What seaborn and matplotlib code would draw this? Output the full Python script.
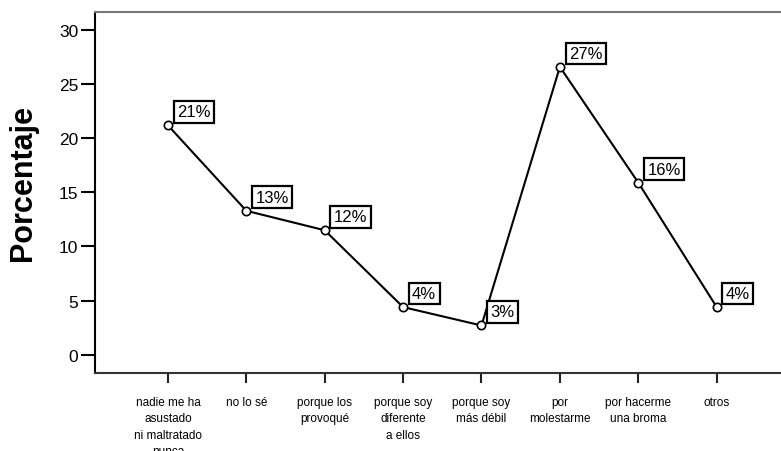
import matplotlib
matplotlib.use("Agg")
import matplotlib.pyplot as plt
import seaborn as sns
import pandas as pd

categories = ["nadie me ha\nasustado\nni maltratado\nnunca", "no lo sé",
              "porque los\nprovoqué", "porque soy\ndiferente\na ellos",
              "porque soy\nmás débil", "por\nmolestarme",
              "por hacerme\nuna broma", "otros"]
values = [21.2, 13.3, 11.5, 4.4, 2.7, 26.6, 15.9, 4.4]
point_labels = ["21%", "13%", "12%", "4%", "3%", "27%", "16%", "4%"]
yticks = [0, 5, 10, 15, 20, 25, 30]

sns.set_theme(style="white")
plt.rcParams['font.family'] = ['Liberation Sans', 'DejaVu Sans']
plt.rcParams['text.color'] = 'black'
plt.rcParams['axes.labelcolor'] = 'black'
plt.rcParams['xtick.color'] = 'black'
plt.rcParams['ytick.color'] = 'black'

df = pd.DataFrame({"pos": list(range(len(categories))), "val": values})

fig = plt.figure(figsize=(7.81, 4.52), dpi=100)
ax = fig.add_axes([95/781, 78/452, 694.6/781, 361/452])

sns.lineplot(data=df, x="pos", y="val", ax=ax, color="black", linewidth=1.5,
             marker="o", markersize=6, markerfacecolor="white",
             markeredgecolor="black", markeredgewidth=1.2)

for xi, yi, lab in zip(df["pos"], df["val"], point_labels):
    ax.annotate(lab, (xi, yi), xytext=(9, 6), textcoords="offset pixels",
                ha="left", va="bottom", fontsize=12, color="black",
                bbox=dict(boxstyle="square,pad=0.2", fc="white", ec="black", lw=1.6))

ax.set_xlim(-0.93, 7.93)
ax.set_ylim(-1.69, 31.67)
ax.set_xticks(range(len(categories)))
ax.set_xticklabels(categories, fontsize=8.5, linespacing=1.5)
ax.set_yticks(yticks)
ax.set_yticklabels([str(t) for t in yticks], fontsize=12.5)
ax.tick_params(axis="y", direction="out", length=10, width=1.5, color="black", pad=2, left=True)
ax.tick_params(axis="x", direction="out", length=7.5, width=1.5, color="#222222", pad=9, bottom=True)
ax.set_xlabel("")
ax.set_ylabel("Porcentaje", fontsize=22, fontweight="bold", color="black")
ax.yaxis.set_label_coords(-0.082, 0.528)

ax.spines["left"].set_color("black")
ax.spines["left"].set_linewidth(1.5)
ax.spines["bottom"].set_color("#333333")
ax.spines["bottom"].set_linewidth(1.5)
ax.spines["top"].set_color("#777777")
ax.spines["top"].set_linewidth(1.5)
ax.spines["right"].set_color("#777777")
ax.grid(False)

fig.savefig("out.png", dpi=100)
